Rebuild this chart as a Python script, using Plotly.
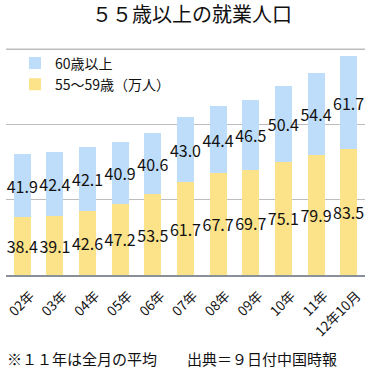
import plotly.graph_objects as go

categories = ["02年", "03年", "04年", "05年", "06年", "07年", "08年", "09年", "10年", "11年", "12年10月"]
age_55_59 = [38.4, 39.1, 42.6, 47.2, 53.5, 61.7, 67.7, 69.7, 75.1, 79.9, 83.5]
age_60_plus = [41.9, 42.4, 42.1, 40.9, 40.6, 43.0, 44.4, 46.5, 50.4, 54.4, 61.7]
grid_values = [50, 100, 150]

FONT = "Noto Sans CJK JP"
YELLOW = "#FCE288"
BLUE = "#BEDDFA"
GRID = "#BDBDBD"

fig = go.Figure()
fig.add_trace(go.Bar(
    x=categories, y=age_55_59, name="55〜59歳（万人）",
    marker=dict(color=YELLOW, line=dict(width=0)),
    text=[f"{v:.1f}" for v in age_55_59], textposition="inside",
    insidetextanchor="middle", textangle=0, constraintext="none",
    textfont=dict(family=FONT, size=16, color="#111"),
))
fig.add_trace(go.Bar(
    x=categories, y=age_60_plus, name="60歳以上",
    marker=dict(color=BLUE, line=dict(width=0)),
    text=[f"{v:.1f}" for v in age_60_plus], textposition="inside",
    insidetextanchor="middle", textangle=0, constraintext="none",
    textfont=dict(family=FONT, size=16, color="#111"),
))

fig.update_layout(
    width=384, height=379,
    barmode="stack", bargap=0.48,
    margin=dict(l=6, r=19, t=44, b=104, autoexpand=False),
    paper_bgcolor="white", plot_bgcolor="white",
    font=dict(family=FONT, color="#111"),
    title=dict(text="５５歳以上の就業人口", x=0.5, xanchor="center", y=0.96, yanchor="middle",
               font=dict(family=FONT, size=20, color="#111")),
    showlegend=True,
    legend=dict(x=0.025, y=0.985, xanchor="left", yanchor="top", traceorder="reversed",
                font=dict(family=FONT, size=14, color="#111"), bgcolor="rgba(0,0,0,0)",
                itemwidth=30, tracegroupgap=0),
    uniformtext=dict(mode=False),
)
fig.update_yaxes(range=[0, 153.4], tickvals=grid_values, showticklabels=False, showgrid=True,
                 gridcolor=GRID, gridwidth=1, zeroline=False, showline=False, automargin=False)
fig.update_xaxes(tickangle=-45, tickfont=dict(family=FONT, size=13.5, color="#111"), automargin=False,
                 ticklabelstandoff=6, ticklabelshift=8,
                 showline=True, linecolor="#8A9099", linewidth=1.5, ticks="", showgrid=False)

# top gridline drawn explicitly so it always shows
fig.add_hline(y=grid_values[-1], line=dict(color=GRID, width=1.2), layer="above")

fig.add_annotation(text="※１１年は全月の平均　　出典＝９日付中国時報", xref="paper", yref="paper",
                   x=-0.003, y=-0.36, xanchor="left", yanchor="middle", showarrow=False,
                   font=dict(family=FONT, size=15, color="#111"))

fig.write_html("out.html", config={"displayModeBar": False})
with open("out.html", "r", encoding="utf-8") as f:
    html = f.read()
html = html.replace("<head>", "<head><style>html,body{margin:0;padding:0;overflow:hidden;}</style>", 1)
with open("out.html", "w", encoding="utf-8") as f:
    f.write(html)
